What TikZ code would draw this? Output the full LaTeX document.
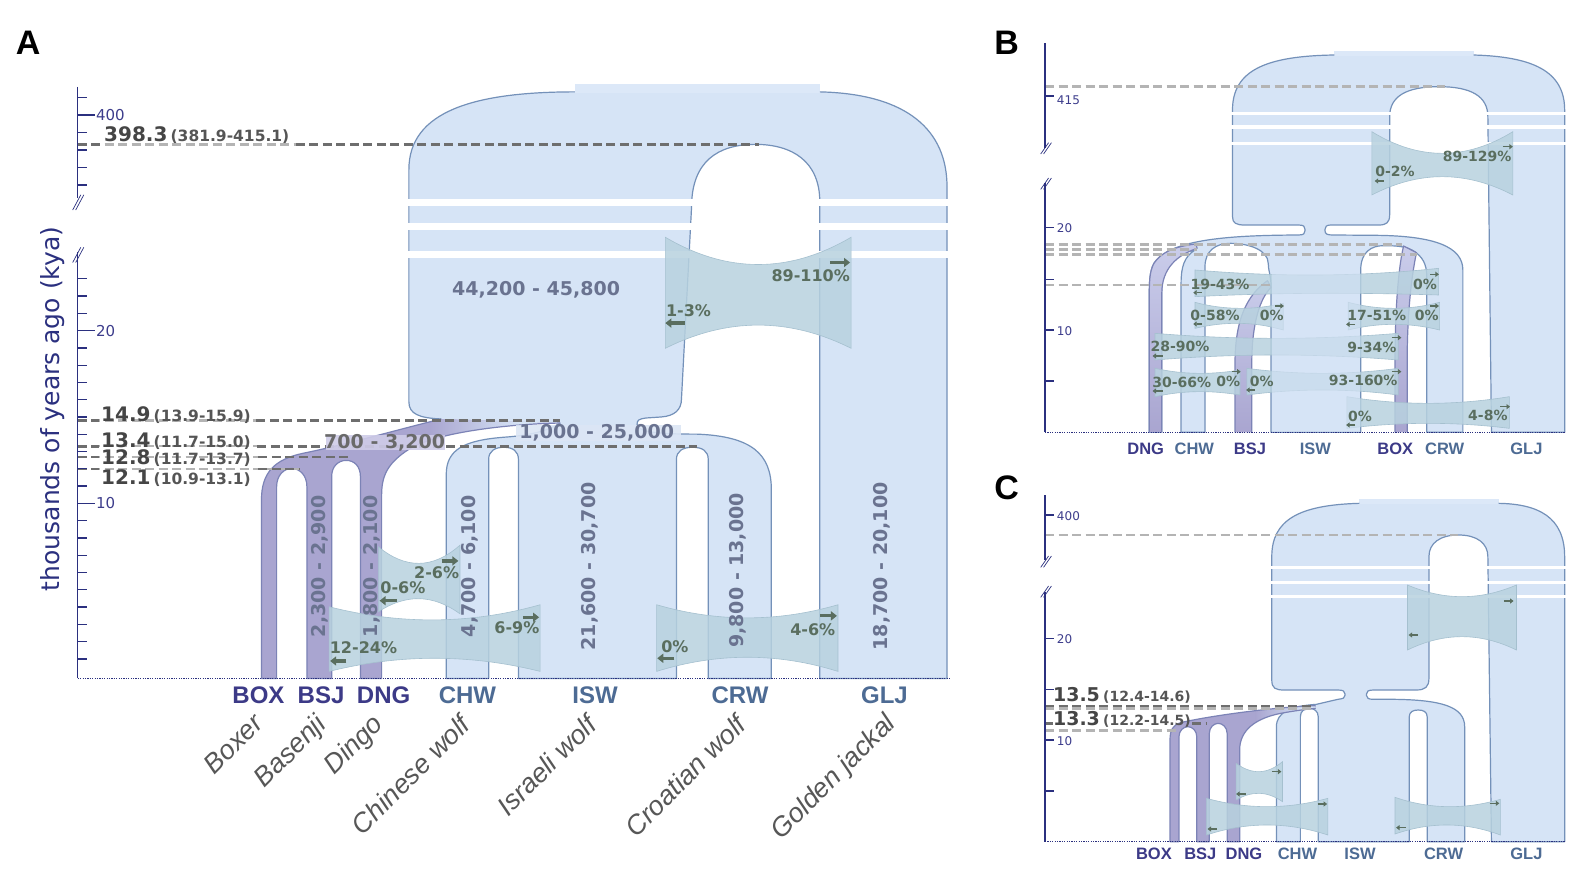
\documentclass[tikz,border=0pt]{standalone}
\usepackage{fontspec}
\setmainfont{DejaVu Sans}
\newfontfamily\libsans{Liberation Sans}
\usetikzlibrary{arrows.meta}
\definecolor{wolfblue}{HTML}{D6E4F6}
\definecolor{topbar}{HTML}{DCE8F8}
\definecolor{wolfedge}{HTML}{7491B9}
\definecolor{dogpurple}{HTML}{A9A5D0}
\definecolor{ribtop}{HTML}{CACDEB}
\definecolor{dogedge}{HTML}{7C83B6}
\definecolor{bandc}{HTML}{B8D2DF}
\definecolor{bandedge}{HTML}{A5C0CF}
\definecolor{dashdark}{HTML}{6E6E6E}
\definecolor{dashlight}{HTML}{B4B4B4}
\definecolor{navy}{HTML}{2B307F}
\definecolor{ticklab}{HTML}{3D3D8C}
\definecolor{numc}{HTML}{6A7390}
\definecolor{migc}{HTML}{5A6E5F}
\definecolor{dogcode}{HTML}{3C3A87}
\definecolor{wolfcode}{HTML}{4D6B94}
\definecolor{namec}{HTML}{575757}
\definecolor{labdark}{HTML}{454545}
\definecolor{labci}{HTML}{555555}
\definecolor{dogbg}{HTML}{CFCCE8}
\definecolor{wolfbg}{HTML}{DCE6F5}
\tikzset{
 wedge/.style={draw=wolfedge, line width=1.2pt, line join=round},
 dedge/.style={draw=dogedge, line width=1.2pt, line join=round},
 bandfill/.style={fill=bandc, fill opacity=0.85, draw=bandedge, line width=0.6pt},
 ddash/.style={draw=dashdark, line width=2.6pt, dash pattern=on 9pt off 4.5pt},
 ldash/.style={draw=dashlight, line width=2.4pt, dash pattern=on 9pt off 4.5pt},
 marr/.style={draw=migc, line width=3.2pt, -{Triangle[length=6pt,width=9pt]}},
 sarr/.style={draw=migc, line width=1.4pt, -{Triangle[length=3.5pt,width=5pt]}},
 axisl/.style={draw=navy, line width=1.3pt},
 brk/.style={draw=navy, line width=0.7pt},
 dotbase/.style={draw=navy, line width=1.2pt, dash pattern=on 1.2pt off 1.2pt},
 numlab/.style={text=numc, font=\fontsize{19}{22}\selectfont\bfseries, inner sep=1pt},
 miglab/.style={text=migc, font=\fontsize{16}{18}\selectfont\bfseries, inner sep=0pt},
 smig/.style={text=migc, font=\fontsize{14}{16}\selectfont\bfseries, inner sep=0pt},
 ticktxt/.style={text=ticklab, font=\fontsize{15}{17}\selectfont, inner sep=0pt, anchor=west},
 sticktxt/.style={text=ticklab, font=\fontsize{12}{14}\selectfont, inner sep=0pt, anchor=west},
 dogcd/.style={text=dogcode, font=\libsans\bfseries\fontsize{24}{26}\selectfont, inner sep=0pt},
 wolfcd/.style={text=wolfcode, font=\libsans\bfseries\fontsize{24}{26}\selectfont, inner sep=0pt},
 sdogcd/.style={text=dogcode, font=\libsans\bfseries\fontsize{16.5}{18}\selectfont, inner sep=0pt},
 swolfcd/.style={text=wolfcode, font=\libsans\bfseries\fontsize{16.5}{18}\selectfont, inner sep=0pt},
 namelab/.style={text=namec, font=\libsans\itshape\fontsize{27}{29}\selectfont, inner sep=0pt, rotate=45, anchor=north east},
 panel/.style={text=black, font=\libsans\bfseries\fontsize{34}{36}\selectfont, inner sep=0pt},
 datelab/.style={text=labdark, inner sep=0pt, anchor=base west},
}
\newcommand{\mband}[8]{%
\path[bandfill] (#1,#3) .. controls ({#1+(#2-#1)/3},{(8*#4-#3-#5)/6}) and ({#2-(#2-#1)/3},{(8*#4-#3-#5)/6}) .. (#2,#5) -- (#2,#8) .. controls ({#2-(#2-#1)/3},{(8*#7-#6-#8)/6}) and ({#1+(#2-#1)/3},{(8*#7-#6-#8)/6}) .. (#1,#6) -- cycle;}
\newcommand{\marrow}[4]{\draw[#1] (#2,#4) -- (#3,#4);}
\newcommand{\bigd}[1]{{\fontsize{20}{23}\selectfont\bfseries #1}}
\newcommand{\cid}[1]{{\color{labci}\fontsize{15.5}{18}\selectfont\bfseries #1}}

\begin{document}
\begin{tikzpicture}[x=1pt,y=-1pt]
\useasboundingbox[fill=white] (0,0) rectangle (1583,870);

%================ PANEL A =================
\begin{scope}[x=1.0096pt,y=-1.0096pt]
\def\Aone{(437,415) .. controls (415,414) and (405,410) .. (405,398) -- (405,168) .. controls (405,110) and (470,91) .. (569.5,91)}
\def\Atwo{(812,91) .. controls (900,93) and (938,130) .. (938,185) -- (938,672) -- (812,672) -- (812,200) .. controls (812,160) and (785,143) .. (748,143) .. controls (711,143) and (685,160) .. (685,205) -- (675,395) .. controls (675,406) and (668,412) .. (655,413) -- (640,414) .. controls (633,415) and (631,416) .. (631,420) .. controls (631,427) and (645,430) .. (690,430) .. controls (745,432) and (764,450) .. (764,485) -- (764,672) -- (701.5,672) -- (701.5,455) .. controls (701.5,447) and (696,443) .. (686,443) .. controls (676,443) and (670,447) .. (670,455) -- (670,672) -- (513.5,672) -- (513.5,455) .. controls (513.5,447) and (508,443) .. (499,443) .. controls (490,443) and (484,447) .. (484,455) -- (484,672) -- (442,672) -- (442,470) .. controls (442,445) and (460,436) .. (500,433) .. controls (530,431) and (545,425) .. (555,419)}
\fill[wolfblue] \Atwo -- \Aone -- cycle;
\fill[topbar] (569.5,83) rectangle (812,92);
\draw[wedge] \Aone;
\draw[wedge] \Atwo;
\fill[white] (400,197) rectangle (945,204);
\fill[white] (400,221) rectangle (945,228);
\fill[white] (400,248.6) rectangle (945,255.2);

% dog lineage
\def\dogA{(437,415) .. controls (400,424) and (340,441) .. (300,449) .. controls (272,455) and (259,468) .. (259,495) -- (259,672) -- (274,672) -- (274,482) .. controls (274,471) and (281,464) .. (289,464) .. controls (297,464) and (304,471) .. (304,482) -- (304,672) -- (328.5,672) -- (328.5,472) .. controls (328.5,462) and (335,456) .. (343,456) .. controls (351,456) and (357,462) .. (357,472) -- (357,672) -- (378,672) -- (378,490) .. controls (378,470) and (385,458) .. (405,445) .. controls (430,429) and (500,420) .. (555,419)}
\fill[dogpurple] \dogA -- cycle;
\begin{scope}
\clip \dogA -- cycle;
\shade[left color=dogpurple, right color=wolfblue] (425,400) rectangle (515,455);
\fill[wolfblue] (514,400) rectangle (560,455);
\end{scope}
\draw[dedge] \dogA;

% migration bands
\mband{659}{843}{235}{262}{235}{345}{322}{345}
\mband{374.7}{455.6}{541.5}{558}{540}{606}{593}{608}
\mband{326}{535}{601}{614}{599}{665}{652}{665}
\mband{650.4}{830}{599}{612}{599}{665}{651}{665}

% dashed date lines
\draw[ldash] (77,143) -- (300,143);
\draw[ddash] (77,143) -- (100,143);
\draw[ddash] (293,143) -- (752,143);
\draw[ldash] (77,416.5) -- (258,416.5);
\draw[ddash] (77,416.5) -- (98,416.5);
\draw[ddash] (254,416.5) -- (555,416.5);
\draw[ldash] (77,442) -- (258,442);
\draw[ddash] (77,442) -- (98,442);
\draw[ddash] (255,442) -- (690,442);
\draw[ldash] (77,452.5) -- (258,452.5);
\draw[ddash] (77,452.5) -- (98,452.5);
\draw[ddash] (256,452.5) -- (345,452.5);
\draw[ldash] (77,464.5) -- (297,464.5);
\draw[ddash] (77,464.5) -- (98,464.5);
\draw[ddash] (256,464.5) -- (297,464.5);

% text backgrounds
\fill[dogbg, opacity=0.9] (323,431) rectangle (441,446);
\fill[wolfbg, opacity=0.9] (511,421) rectangle (675,437);

% arrows
\marrow{marr}{822}{842}{260}
\marrow{marr}{678}{659}{320}
\marrow{marr}{437.5}{454}{555.6}
\marrow{marr}{393}{376}{595}
\marrow{marr}{343}{327}{654.7}
\marrow{marr}{518}{534}{611.4}
\marrow{marr}{668}{651}{652}
\marrow{marr}{812}{829}{610}

% migration labels
\node[miglab] (a89) at (803,273) {89-110\%};
\node[miglab] (a13) at (682,308) {1-3\%};
\node[miglab] (a26) at (432.5,567) {2-6\%};
\node[miglab] (a06) at (399,582.5) {0-6\%};
\node[miglab] (a1224) at (360,642) {12-24\%};
\node[miglab] (a69) at (512,622) {6-9\%};
\node[miglab] (a0) at (668.5,640.5) {0\%};
\node[miglab] (a46) at (805,624) {4-6\%};

% population sizes
\node[numlab] (nanc) at (531,287) {44,200 - 45,800};
\node[numlab] (nwolf) at (591,429) {1,000 - 25,000};
\node[numlab, text=labdark!80] (ndog) at (381,438.5) {700 - 3,200};
\node[numlab, rotate=90] (nbsj) at (317,561) {2,300 - 2,900};
\node[numlab, rotate=90] (ndng) at (368,561) {1,800 - 2,100};
\node[numlab, rotate=90] (nchw) at (465.5,561) {4,700 - 6,100};
\node[numlab, rotate=90] (nisw) at (584,561) {21,600 - 30,700};
\node[numlab, rotate=90] (ncrw) at (731,565) {9,800 - 13,000};
\node[numlab, rotate=90] (nglj) at (873,561) {18,700 - 20,100};

% date labels
\node[datelab] (d1) at (103,140) {\bigd{398.3} \cid{(381.9-415.1)}};
\node[datelab] (d2) at (100,417) {\bigd{14.9} \cid{(13.9-15.9)}};
\node[datelab] (d3) at (100,443) {\bigd{13.4} \cid{(11.7-15.0)}};
\node[datelab] (d4) at (100,460) {\bigd{12.8} \cid{(11.7-13.7)}};
\node[datelab] (d5) at (100,480) {\bigd{12.1} \cid{(10.9-13.1)}};

% axis
\draw[axisl] (77,86) -- (77,196);
\draw[axisl] (77,250) -- (77,672);
\draw[brk] (72,208) -- (80,193);
\draw[brk] (75,208) -- (83,193);
\draw[brk] (72,260) -- (80,245);
\draw[brk] (75,260) -- (83,245);
\foreach \yy in {96.8,131.1,148.6,165.7,183.2} \draw[axisl] (77,\yy) -- (86,\yy);
\draw[axisl] (77,113.9) -- (94,113.9);
\foreach \k in {1,...,9,11,12,13,14,15,16,17,18,19,21,22,23} {
  \pgfmathsetmacro\yy{669.7-17.11*\k}
  \draw[axisl] (77,\yy) -- (86,\yy);
}
\draw[axisl] (77,498.6) -- (94,498.6);
\draw[axisl] (77,327.5) -- (94,327.5);
\node[ticktxt] (t400) at (95,114) {400};
\node[ticktxt] (t20) at (95,327.5) {20};
\node[ticktxt] (t10) at (95,498.6) {10};
\draw[dotbase] (77,672) -- (940,672);
\node[rotate=90, text=navy, font=\fontsize{25}{27}\selectfont] (ytitle) at (52,405) {thousands of years ago (kya)};

% codes and names
\node[dogcd] (cbox) at (256,689) {BOX};
\node[dogcd] (cbsj) at (318,689) {BSJ};
\node[dogcd] (cdng) at (380,689) {DNG};
\node[wolfcd] (cchw) at (463,689) {CHW};
\node[wolfcd] (cisw) at (589.5,689) {ISW};
\node[wolfcd] (ccrw) at (733,689) {CRW};
\node[wolfcd] (cglj) at (876,689) {GLJ};
\node[namelab] (nmbox) at (249,705) {Boxer};
\node[namelab] (nmbsj) at (310.5,705) {Basenji};
\node[namelab] (nmdng) at (367,705) {Dingo};
\node[namelab] (nmchw) at (454,706) {Chinese wolf};
\node[namelab] (nmisw) at (579,706) {Israeli wolf};
\node[namelab] (nmcrw) at (727,706) {Croatian wolf};
\node[namelab] (nmglj) at (875,704) {Golden jackal};
\node[panel] (pA) at (28,42) {A};
\node[panel] (pB) at (997,42) {B};
\node[panel] (pC) at (997,483) {C};
\end{scope}

%================ PANEL B =================
\begin{scope}[shift={(1020pt,-30pt)}, x=0.357143pt, y=-0.333333pt]
\def\Bbig{(1270,75) .. controls (1430,80) and (1525,120) .. (1525,240) -- (1525,1207) -- (1320,1207) -- (1310,260) .. controls (1310,200) and (1265,170) .. (1173,170) .. controls (1080,170) and (1035,200) .. (1035,260) -- (1035,555) .. controls (1035,578) and (1025,585) .. (1005,585) -- (870,585) .. controls (858,585) and (854,590) .. (854,598) -- (854,602) .. controls (854,612) and (860,615) .. (875,615) -- (1000,616) .. controls (1160,618) and (1240,650) .. (1240,720) -- (1240,1207) -- (1139,1207) -- (1139,740) .. controls (1139,700) and (1125,680) .. (1105,665) .. controls (1085,650) and (1060,647) .. (1017,647) .. controls (985,647) and (954,665) .. (954,720) -- (954,1207) -- (703,1207) -- (703,770) .. controls (703,740) and (695,720) .. (695,700) .. controls (695,660) and (640,640) .. (590,640) .. controls (548,640) and (518,662) .. (518,710) -- (518,1207) -- (451,1207) -- (451,760) .. controls (451,710) and (460,680) .. (490,660) .. controls (440,670) and (397,700) .. (397,780) -- (397,1207) -- (362,1207) -- (362,800) .. controls (362,760) and (362,725) .. (375,700) .. controls (420,625) and (600,616) .. (780,615) .. controls (795,615) and (798,610) .. (798,602) -- (798,598) .. controls (798,590) and (795,585) .. (780,585) -- (630,585) .. controls (605,585) and (595,580) .. (595,560) -- (595,240) .. controls (595,120) and (690,78) .. (880,75)}
\fill[wolfblue] \Bbig -- cycle;
\fill[topbar] (880,62) rectangle (1270,77);
\draw[wedge] \Bbig;
\fill[white] (588,245) rectangle (1532,255);
\fill[white] (588,286) rectangle (1532,296);
\fill[white] (588,336) rectangle (1532,346);
% ribbons
\def\Bdng{(362,1207) -- (362,800) .. controls (362,760) and (362,725) .. (375,700) .. controls (395,668) and (430,650) .. (492,642) -- (496,655) .. controls (440,675) and (397,715) .. (397,790) -- (397,1207)}
\def\Bbsj{(602,1207) -- (602,1000) .. controls (602,870) and (635,795) .. (693,752) -- (703,772) .. controls (672,805) and (649,880) .. (649,1000) -- (649,1207)}
\def\Bbox{(1050,1207) -- (1050,1000) .. controls (1050,850) and (1058,720) .. (1074,648) -- (1110,668) .. controls (1096,740) and (1084,850) .. (1084,1000) -- (1084,1207)}
\shade[top color=ribtop, bottom color=dogpurple] \Bdng -- cycle;
\shade[top color=ribtop, bottom color=dogpurple] \Bbsj -- cycle;
\shade[top color=ribtop, bottom color=dogpurple] \Bbox -- cycle;
\draw[dedge] \Bdng;
\draw[dedge] \Bbsj;
\draw[dedge] \Bbox;
% bands
\mband{985}{1380}{305}{370}{305}{495}{440}{495}
\mband{490}{1172}{720}{735}{715}{800}{790}{795}
\mband{490}{737}{817}{835}{820}{895}{880}{900}
\mband{919}{1175}{817}{835}{817}{900}{883}{900}
\mband{378}{1059}{910}{925}{910}{990}{975}{990}
\mband{378}{616}{1015}{1030}{1020}{1100}{1085}{1095}
\mband{635}{1059}{1015}{1030}{1015}{1095}{1080}{1095}
\mband{915}{1370}{1100}{1120}{1100}{1195}{1180}{1195}
\fill[wolfblue, opacity=0.6] (704.5,705) rectangle (953,1205);
% dashed
\draw[ldash] (70,170) -- (1190,170);
\draw[ldash] (70,643) -- (1069,643);
\draw[ldash] (70,658) -- (495,658);
\draw[ldash] (70,673) -- (1111,673);
\draw[ldash] (70,765) -- (703,765);
% arrows
\marrow{sarr}{1352}{1380}{350}
\marrow{sarr}{1018}{993}{453}
\marrow{sarr}{509}{485}{788}
\marrow{sarr}{1148}{1173}{733}
\marrow{sarr}{509}{485}{882}
\marrow{sarr}{714}{739}{828}
\marrow{sarr}{938}{913}{883}
\marrow{sarr}{1148}{1173}{828}
\marrow{sarr}{399}{371}{978}
\marrow{sarr}{1041}{1068}{923}
\marrow{sarr}{399}{371}{1083}
\marrow{sarr}{593}{618}{1025}
\marrow{sarr}{658}{633}{1080}
\marrow{sarr}{1041}{1068}{1025}
\marrow{sarr}{938}{913}{1185}
\marrow{sarr}{1345}{1372}{1130}
% labels
\node[smig] (b89) at (1280,378) {89-129\%};
\node[smig] (b02) at (1050,425) {0-2\%};
\node[smig] (b1943) at (560,763) {19-43\%};
\node[smig] (b0a) at (1134,763) {0\%};
\node[smig] (b058) at (546,857) {0-58\%};
\node[smig] (b0b) at (705,857) {0\%};
\node[smig] (b1751) at (999,857) {17-51\%};
\node[smig] (b0c) at (1139,857) {0\%};
\node[smig] (b2890) at (448,950) {28-90\%};
\node[smig] (b934) at (985,953) {9-34\%};
\node[smig] (b3066) at (453,1057) {30-66\%};
\node[smig] (b0d) at (583,1055) {0\%};
\node[smig] (b0e) at (677,1055) {0\%};
\node[smig] (b93) at (961,1052) {93-160\%};
\node[smig] (b0f) at (952,1160) {0\%};
\node[smig] (b48) at (1310,1157) {4-8\%};
% axis
\draw[axisl] (70,40) -- (70,355);
\draw[axisl] (70,460) -- (70,1207);
\draw[brk] (58,372) -- (80,338);
\draw[brk] (66,372) -- (88,338);
\draw[brk] (58,478) -- (80,444);
\draw[brk] (66,478) -- (88,444);
\foreach \yy in {198,593,748,900,1053} \draw[axisl] (70,\yy) -- (95,\yy);
\node[sticktxt] (b415) at (103,210) {415};
\node[sticktxt] (b20) at (103,595) {20};
\node[sticktxt] (b10) at (103,903) {10};
\draw[dotbase] (70,1207) -- (1525,1207);
\node[sdogcd] (bdng) at (352,1255) {DNG};
\node[swolfcd] (bchw) at (488,1255) {CHW};
\node[sdogcd] (bbsj) at (644,1255) {BSJ};
\node[swolfcd] (bisw) at (827,1255) {ISW};
\node[sdogcd] (bbox) at (1051,1255) {BOX};
\node[swolfcd] (bcrw) at (1189,1255) {CRW};
\node[swolfcd] (bglj) at (1418,1255) {GLJ};
\end{scope}

%================ PANEL C =================
\begin{scope}[shift={(1020pt,-460pt)}, x=0.357143pt, y=-0.333333pt]
\def\Cbig{(1340,130) .. controls (1450,132) and (1525,170) .. (1525,290) -- (1525,1145) -- (1320,1145) -- (1310,290) .. controls (1310,250) and (1280,225) .. (1228,225) .. controls (1175,225) and (1145,250) .. (1145,290) -- (1145,655) .. controls (1145,680) and (1135,690) .. (1110,690) -- (990,690) .. controls (975,690) and (970,694) .. (970,702) -- (970,706) .. controls (970,714) and (975,718) .. (990,718) -- (1050,718) .. controls (1180,720) and (1245,740) .. (1245,800) -- (1245,1145) -- (1140,1145) -- (1140,770) .. controls (1140,756) and (1130,750) .. (1115,750) .. controls (1100,750) and (1090,756) .. (1090,770) -- (1090,1145) -- (835,1145) -- (835,770) .. controls (835,753) and (823,745) .. (810,745) .. controls (797,745) and (785,753) .. (785,770) -- (785,1145) -- (718,1145) -- (718,800) .. controls (718,755) and (760,738) .. (830,733) -- (890,718) .. controls (905,716) and (910,714) .. (910,706) -- (910,702) .. controls (910,694) and (905,690) .. (890,690) -- (740,690) .. controls (715,690) and (705,685) .. (705,660) -- (705,290) .. controls (705,180) and (780,135) .. (950,130)}
\fill[wolfblue] \Cbig -- cycle;
\fill[topbar] (950,118) rectangle (1340,131);
\draw[wedge] \Cbig;
\fill[white] (698,318) rectangle (1532,328);
\fill[white] (698,362) rectangle (1532,372);
\fill[white] (698,405) rectangle (1532,415);
\def\Cdog{(828,737) .. controls (700,742) and (520,770) .. (450,788) .. controls (428,795) and (420,810) .. (420,840) -- (420,1145) -- (445,1145) -- (445,830) .. controls (445,812) and (458,800) .. (470,800) .. controls (482,800) and (495,812) .. (495,830) -- (495,1145) -- (530,1145) -- (530,820) .. controls (530,802) and (543,790) .. (555,790) .. controls (567,790) and (580,802) .. (580,820) -- (580,1145) -- (615,1145) -- (615,870) .. controls (615,810) and (660,775) .. (730,760) .. controls (770,752) and (800,748) .. (828,745)}
\fill[dogpurple] \Cdog -- cycle;
\begin{scope}
\clip \Cdog -- cycle;
\shade[left color=dogpurple, right color=wolfblue] (660,720) rectangle (800,800);
\fill[wolfblue] (799,720) rectangle (840,800);
\end{scope}
\draw[dedge] \Cdog;
% bands
\mband{1085}{1390}{375}{410}{375}{570}{530}{570}
\mband{605}{735}{910}{935}{905}{1020}{1000}{1025}
\mband{522}{862}{1015}{1040}{1015}{1125}{1095}{1125}
\mband{1050}{1345}{1012}{1040}{1018}{1122}{1095}{1125}
% dashed
\draw[ldash] (70,225) -- (1225,225);
\draw[ldash] (70,745) -- (820,745);
\draw[ddash] (70,738) -- (820,738);
\draw[ldash] (70,812) -- (440,812);
\draw[ddash] (70,790) -- (92,790);
\draw[ddash] (482,790) -- (520,790);
% arrows
\marrow{sarr}{1355}{1382}{423}
\marrow{sarr}{1115}{1088}{525}
\marrow{sarr}{705}{732}{935}
\marrow{sarr}{632}{605}{1002}
\marrow{sarr}{833}{860}{1032}
\marrow{sarr}{552}{525}{1107}
\marrow{sarr}{1315}{1342}{1030}
\marrow{sarr}{1080}{1053}{1103}
% date labels
\node[text=labdark, inner sep=0pt, anchor=west] (c135) at (92,705) {{\fontsize{19}{22}\selectfont\bfseries 13.5} {\color{labci}\fontsize{14}{16}\selectfont\bfseries (12.4-14.6)}};
\node[text=labdark, inner sep=0pt, anchor=west] (c133) at (92,778) {{\fontsize{19}{22}\selectfont\bfseries 13.3} {\color{labci}\fontsize{14}{16}\selectfont\bfseries (12.2-14.5)}};
% axis
\draw[axisl] (70,105) -- (70,300);
\draw[axisl] (70,395) -- (70,1145);
\draw[brk] (58,322) -- (80,288);
\draw[brk] (66,322) -- (88,288);
\draw[brk] (58,412) -- (80,378);
\draw[brk] (66,412) -- (88,378);
\foreach \yy in {165,535,688,840,993} \draw[axisl] (70,\yy) -- (95,\yy);
\node[sticktxt] (c400) at (103,167) {400};
\node[sticktxt] (c20) at (103,537) {20};
\node[sticktxt] (c10) at (103,842) {10};
\draw[dotbase] (70,1145) -- (1525,1145);
\node[sdogcd] (cbox2) at (375,1182) {BOX};
\node[sdogcd] (cbsj2) at (505,1182) {BSJ};
\node[sdogcd] (cdng2) at (627,1182) {DNG};
\node[swolfcd] (cchw2) at (777,1182) {CHW};
\node[swolfcd] (cisw2) at (952,1182) {ISW};
\node[swolfcd] (ccrw2) at (1186,1182) {CRW};
\node[swolfcd] (cglj2) at (1418,1182) {GLJ};
\end{scope}
\end{tikzpicture}
\end{document}
